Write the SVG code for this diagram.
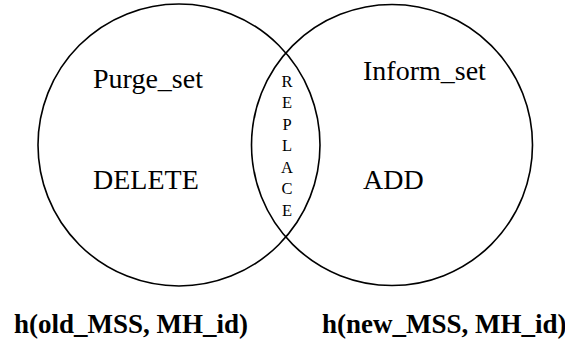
<svg xmlns="http://www.w3.org/2000/svg" width="565" height="343" viewBox="0 0 565 343">
<style>
.c{fill:none;stroke:#000;stroke-width:1.6}
.t{font-family:"Liberation Serif","Times New Roman",serif;font-size:28px;fill:#000}
.r{font-family:"Liberation Serif","Times New Roman",serif;font-size:16.5px;fill:#000;text-anchor:middle}
.b{font-family:"Liberation Serif","Times New Roman",serif;font-size:27px;font-weight:bold;fill:#000}
</style>
<rect width="565" height="343" fill="#fff"/>
<g id="old">
<circle class="c" cx="179" cy="145" r="141"/>
<text class="t" x="93" y="88">Purge_set</text>
<text class="t" x="93" y="189">DELETE</text>
<text class="b" x="14" y="333">h(old_MSS, MH_id)</text>
</g>
<g id="new">
<circle class="c" cx="392" cy="145" r="140.5"/>
<text class="t" x="363" y="80">Inform_set</text>
<text class="t" x="363" y="189">ADD</text>
<text class="b" x="322" y="333">h(new_MSS, MH_id)</text>
</g>
<g id="replace">
<text class="r" x="287" y="86.5">R</text>
<text class="r" x="287" y="108">E</text>
<text class="r" x="287" y="129.5">P</text>
<text class="r" x="287" y="151">L</text>
<text class="r" x="287" y="172.5">A</text>
<text class="r" x="287" y="194">C</text>
<text class="r" x="287" y="215.5">E</text>
</g>
<g id="connectors"/>
</svg>
